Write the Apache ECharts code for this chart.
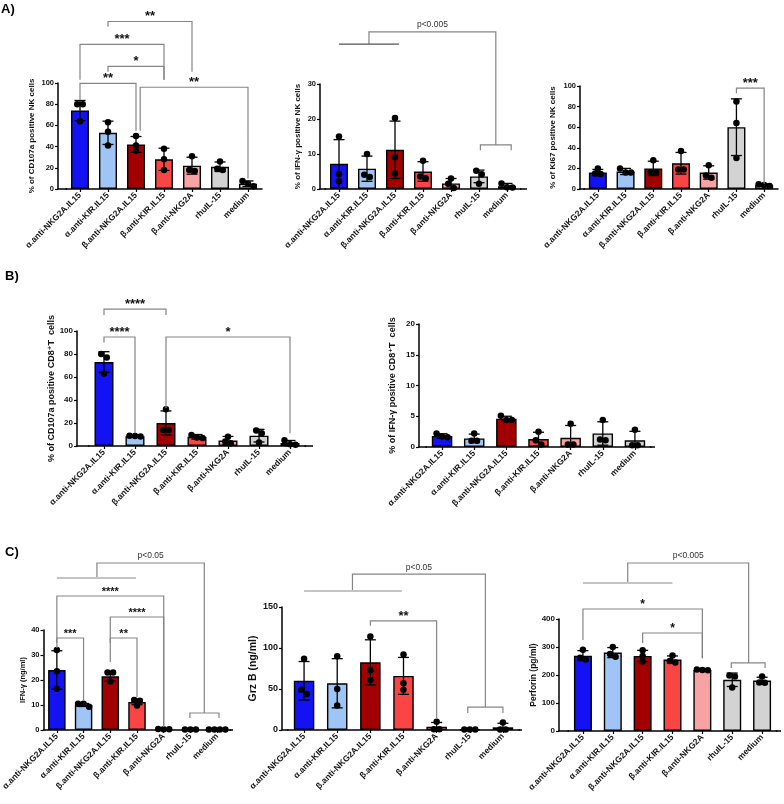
<!DOCTYPE html>
<html><head><meta charset="utf-8">
<script src="https://cdn.jsdelivr.net/npm/echarts@6/dist/echarts.min.js"></script>
<style>html,body{margin:0;padding:0;background:#fff}#c{width:784px;height:804px}</style>
</head><body><div id="c"></div>
<script>
const categories = ['α.anti-NKG2A.IL15','α.anti-KIR.IL15','β.anti-NKG2A.IL15','β.anti-KIR.IL15','β.anti-NKG2A','rhuIL-15','medium'];
const barColors = ['#1212f2','#9fc5f6','#a20000','#fa4545','#f8a3a3','#d3d3d3','#d3d3d3'];

// A) CD107a positive NK cells
const a1Means = [74, 53, 42, 28, 22, 21, 5];
const a1SD    = [9.5, 11, 7.5, 10.5, 8, 4.5, 2.6];
const a1Dots  = [[80,80,64],[63,54,41],[50,41,36],[38,28,18],[31,18,17],[26,19,18],[7.5,5,2.5]];
// A) IFN-γ positive NK cells
const a2Means = [7.2, 5.8, 11.2, 5, 1.6, 3.6, 0.8];
const a2SD    = [6.9, 3.6, 8.2, 2.8, 1.4, 1.8, 0.8];
const a2Dots  = [[15,4.3,2.2],[10,3.4,4.1],[20.3,9.1,4.4],[8.1,3.1,3.6],[3,1.5,0.3],[5.2,4.2,1.5],[1.6,0.4,0.5]];
// A) Ki67 positive NK cells
const a3Means = [16, 17, 20, 25, 16, 60, 4];
const a3SD    = [3, 3, 7, 10.5, 6.5, 27.5, 0.8];
const a3Dots  = [[20,15,14.5],[20,16,16],[28,16,16],[37,19,19],[23,13,11],[85,64,30],[4.5,4,3]];
// B) CD107a positive CD8+T cells
const b1Means = [73, 8.5, 20, 8, 4.8, 9, 2.5];
const b1SD    = [9, 0.6, 10.5, 2, 3.5, 5.5, 2.3];
const b1Dots  = [[80,77,63],[9,8.6,8.2],[32,14,14],[9.5,7.5,7],[8,4,2.5],[13.5,11,3],[5,1,1.5]];
// B) IFN-γ positive CD8+T cells
const b2Means = [1.8, 1.4, 4.6, 1.3, 1.5, 2.2, 1.1];
const b2SD    = [0.35, 0.7, 0.4, 1.1, 2.0, 1.9, 1.45];
const b2Dots  = [[2.2,1.7,1.6],[2.2,1.0,1.0],[5.1,4.4,4.4],[2.5,0.4,1.1],[3.8,0.4,0.4],[4.4,1.1,1.2],[2.8,0.3,0.3]];
// C) IFN-γ (ng/ml)
const c1Means = [24, 10, 21.5, 11.2, 0.35, 0.2, 0.25];
const c1SD    = [7.7, 0.6, 1.9, 1.1, 0.05, 0.05, 0.05];
const c1Dots  = [[32,23.5,16.5],[10.5,10.5,9.3],[23,23,19.4],[12,11.7,9.8],[0.4,0.35,0.35],[0.2,0.2,0.2],[0.25,0.25,0.25,0.25]];
// C) Grz B (ng/ml)
const c2Means = [60, 57, 82.5, 66, 4, 0.5, 3.3];
const c2SD    = [23.5, 30, 27.5, 22.5, 5.2, 0.1, 4.9];
const c2Dots  = [[87,49,44],[90,50,30],[114,73,61],[92,57,49],[10,1,1],[0.5,0.5,0.5],[9,0.5,0.5]];
// C) Perforin (pg/ml)
const c3Means = [269, 280, 268, 255, 218, 183, 180];
const c3SD    = [18, 18, 20, 13, 1.5, 24, 12];
const c3Dots  = [[290,262,255],[300,275,265],[288,268,248],[270,250,245],[220,218,217],[198,195,155],[195,173,172]];

// significance annotations: category positions and levels in data units
const a1Brackets = [
  {x1:1, x2:4, y:158, l:153, r:110.7, t:'**'},
  {x1:0, x2:3, y:136.5, l:103, r:103, t:'***'},
  {x1:1, x2:3, y:115.6, l:110.7, r:103, t:'*'},
  {x1:0, x2:2, y:99.7, l:84, r:55, t:'**'},
  {x1:2.15, x2:6, y:96, l:55, r:10, t:'**'}
];
const a2Brackets = [
  {x1:1.07, x2:5.6, y:44.9, l:41.4, r:12.6, t:'p<0.005', p:true},
  {x1:0, x2:2.14, y:41.4, dark:true},
  {x1:5.05, x2:6.15, y:12.6, l:11.1, r:11.1}
];
const a3Brackets = [
  {x1:5, x2:6, y:98, l:93, r:5, t:'***'}
];
const b1Brackets = [
  {x1:0, x2:2, y:119, l:114, r:114, t:'****'},
  {x1:0, x2:1, y:94.8, l:90, r:11, t:'****'},
  {x1:2, x2:6, y:94.8, l:33, r:11, t:'*'}
];
const b2Brackets = [];
const c1Brackets = [
  {x1:1.5, x2:5.52, y:66.8, l:60.8, r:6.8, t:'p<0.05', p:true},
  {x1:0, x2:2.96, y:60.8, light:true},
  {x1:4.98, x2:6.07, y:6.8, l:4.8, r:4.8},
  {x1:0, x2:4, y:53.6, l:32.8, r:1.2, t:'****'},
  {x1:2, x2:4, y:45.2, l:27.2, r:1.2, t:'****'},
  {x1:0, x2:1, y:36.8, l:34.8, r:12, t:'***'},
  {x1:2, x2:3, y:36.8, l:34.8, r:13.2, t:'**'}
];
const c2Brackets = [
  {x1:1.46, x2:5.47, y:190, l:169.5, r:28, t:'p<0.05', p:true},
  {x1:0, x2:2.95, y:169.5, light:true},
  {x1:4.94, x2:6.0, y:28, l:20.7, r:20.7},
  {x1:2, x2:4, y:133, l:127, r:14.6, t:'**'}
];
const c3Brackets = [
  {x1:1.5, x2:5.55, y:600, l:528.6, r:243, t:'p<0.005', p:true},
  {x1:0, x2:3.0, y:528.6, light:true},
  {x1:4.97, x2:6.1, y:243, l:225, r:225},
  {x1:0, x2:4, y:435.7, l:325, r:260, t:'*'},
  {x1:2, x2:4, y:350, l:314, r:260, t:'*'}
];

const FF = "'Liberation Sans', Arial, 'DejaVu Sans', sans-serif";

const panels = [
  {means:a1Means, sd:a1SD, dots:a1Dots, br:a1Brackets, max:100, interval:20, name:'% of CD107a positive NK cells', nameSize:8, nameGap:22.5, left:66, top:83, width:196, height:106, yOff:8, xExt:0, barW:18, ySize:7.5, starSize:13},
  {means:a2Means, sd:a2SD, dots:a2Dots, br:a2Brackets, max:30, interval:10, name:'% of IFN-γ positive NK cells', nameSize:8, nameGap:18, left:325, top:84, width:196, height:105, yOff:5, xExt:6, barW:18, ySize:7.5, starSize:13},
  {means:a3Means, sd:a3SD, dots:a3Dots, br:a3Brackets, max:100, interval:20, name:'% of Ki67 positive NK cells', nameSize:8, nameGap:23, left:584, top:86, width:194, height:103, yOff:4, xExt:0, barW:18, ySize:7.5, starSize:13},
  {means:b1Means, sd:b1SD, dots:b1Dots, br:b1Brackets, max:100, interval:20, name:'% of CD107a positive CD8⁺T  cells', nameSize:9, nameGap:19.5, left:88.5, top:331, width:217, height:115, yOff:11.5, xExt:7.5, barW:19, ySize:8, starSize:13},
  {means:b2Means, sd:b2SD, dots:b2Dots, br:b2Brackets, max:20, interval:5, name:'% of IFN-γ positive CD8⁺T  cells', nameSize:9, nameGap:22, left:426, top:324, width:225, height:123, yOff:7, xExt:4, barW:20.5, ySize:8, starSize:13},
  {means:c1Means, sd:c1SD, dots:c1Dots, br:c1Brackets, max:40, interval:10, name:'IFN-γ (ng/ml)', nameSize:7.5, nameGap:17, left:43.5, top:630, width:187, height:100, yOff:0, xExt:2.5, barW:17.5, ySize:7.5, starSize:11},
  {means:c2Means, sd:c2SD, dots:c2Dots, br:c2Brackets, max:150, interval:50, name:'Grz B (ng/ml)', nameSize:10.5, nameGap:19.5, left:287.5, top:607, width:232, height:123, yOff:5.5, xExt:2.5, barW:20.5, ySize:9, starSize:13},
  {means:c3Means, sd:c3SD, dots:c3Dots, br:c3Brackets, max:400, interval:100, name:'Perforin (pg/ml)', nameSize:8.5, nameGap:19, left:568, top:619, width:209, height:112, yOff:9, xExt:4, barW:18, ySize:8, starSize:12}
];

// horizontal spreading of coincident points (GraphPad style)
function spread(vals, k) {
  const order = vals.map((v, i) => i).sort((a, b) => vals[b] - vals[a]);
  const off = new Array(vals.length).fill(0);
  let cluster = [];
  const flush = () => {
    const m = cluster.length;
    cluster.forEach((idx, j) => { off[idx] = (j - (m - 1) / 2) * 5.5; });
    cluster = [];
  };
  order.forEach((idx, n) => {
    if (n > 0 && (vals[order[n - 1]] - vals[idx]) * k >= 4.5) flush();
    cluster.push(idx);
  });
  flush();
  return off;
}

const series = [];
panels.forEach((p, g) => {
  const k = p.height / p.max;
  series.push({
    type: 'bar', xAxisIndex: g, yAxisIndex: g, barWidth: p.barW, z: 2,
    data: p.means.map((v, i) => ({value: v, itemStyle: {color: barColors[i]}})),
    itemStyle: {borderColor: '#000', borderWidth: 1.4},
    silent: true
  });
  series.push({
    type: 'custom', xAxisIndex: g, yAxisIndex: g, z: 3, silent: true, clip: false,
    data: p.means.map((v, i) => [i, v, p.sd[i]]),
    renderItem: function (params, api) {
      const i = api.value(0), m = api.value(1), s = api.value(2);
      const top = api.coord([i, m + s]);
      const lowV = Math.max(0, m - s);
      const bot = api.coord([i, lowV]);
      const cw = 5.5;
      const st = {stroke: '#000', lineWidth: 1.3};
      const ch = [
        {type: 'line', shape: {x1: top[0], y1: top[1], x2: bot[0], y2: bot[1]}, style: st},
        {type: 'line', shape: {x1: top[0] - cw, y1: top[1], x2: top[0] + cw, y2: top[1]}, style: st}
      ];
      if (lowV > 0) ch.push({type: 'line', shape: {x1: bot[0] - cw, y1: bot[1], x2: bot[0] + cw, y2: bot[1]}, style: st});
      if (params.dataIndex === 0) {
        const c0 = api.coord([0, 0]), c1 = api.coord([1, 0]);
        const bw = c1[0] - c0[0];
        const x0 = c0[0] - bw / 2;
        const x7 = c0[0] + bw * 6.5;
        if (p.yOff > 0) ch.push({type: 'line', shape: {x1: x0 - p.yOff - 0.75, y1: c0[1], x2: x0 + 1, y2: c0[1]}, style: {stroke: '#000', lineWidth: 1.5}});
        if (p.xExt > 0) ch.push({type: 'line', shape: {x1: x7 - 1, y1: c0[1], x2: x7 + p.xExt, y2: c0[1]}, style: {stroke: '#000', lineWidth: 1.5}});
      }
      return {type: 'group', children: ch};
    }
  });
  const dotData = [];
  p.dots.forEach((vals, i) => {
    const off = spread(vals, k);
    vals.forEach((v, j) => dotData.push({value: [i, v], symbolOffset: [off[j], 0]}));
  });
  series.push({
    type: 'scatter', xAxisIndex: g, yAxisIndex: g, z: 4, silent: true,
    symbol: 'circle', symbolSize: 6.5, itemStyle: {color: '#000', opacity: 1},
    data: dotData
  });
  if (p.br.length) {
    series.push({
      type: 'custom', xAxisIndex: g, yAxisIndex: g, z: 5, silent: true, clip: false,
      data: p.br.map(() => [0, 0]),
      renderItem: function (params, api) {
        const b = p.br[params.dataIndex];
        const c0 = api.coord([0, b.y]), c1 = api.coord([1, b.y]);
        const bw = c1[0] - c0[0];
        const X = x => c0[0] + x * bw;
        const Y = v => api.coord([0, v])[1];
        const pts = [];
        if (b.l != null) pts.push([X(b.x1), Y(b.l)]);
        pts.push([X(b.x1), Y(b.y)]);
        pts.push([X(b.x2), Y(b.y)]);
        if (b.r != null) pts.push([X(b.x2), Y(b.r)]);
        let stroke = '#858585', lw = 1.2;
        if (b.light) { stroke = '#c4c4c4'; lw = 2; }
        if (b.dark) { stroke = '#555'; lw = 1.1; }
        const ch = [{type: 'polyline', shape: {points: pts}, style: {stroke: stroke, lineWidth: lw, fill: null}}];
        if (b.t) {
          ch.push({type: 'text', style: {
            text: b.t, x: (X(b.x1) + X(b.x2)) / 2, y: Y(b.y) + (b.p ? -2.5 : 1.5),
            textAlign: 'center', textVerticalAlign: 'bottom',
            font: b.p ? ('normal 8.5px ' + FF) : ('bold ' + p.starSize + 'px ' + FF),
            fill: b.p ? '#333' : '#111'
          }});
        }
        return {type: 'group', children: ch};
      }
    });
  }
});

const option = {
  animation: false,
  backgroundColor: '#fff',
  textStyle: {fontFamily: FF},
  grid: panels.map(p => ({left: p.left, top: p.top, width: p.width, height: p.height, containLabel: false, outerBoundsMode: 'none'})),
  xAxis: panels.map((p, g) => ({
    type: 'category', gridIndex: g, data: categories,
    axisLine: {show: true, lineStyle: {color: '#000', width: 1.5}},
    axisTick: {show: true, alignWithLabel: true, length: 3, lineStyle: {color: '#000', width: 1.2}},
    axisLabel: {interval: 0, rotate: 45, fontSize: 8.5, fontWeight: 'bold', color: '#111', margin: 5, fontFamily: FF, hideOverlap: false},
    splitLine: {show: false}
  })),
  yAxis: panels.map((p, g) => ({
    type: 'value', gridIndex: g, min: 0, max: p.max, interval: p.interval, offset: p.yOff,
    name: p.name, nameLocation: 'middle', nameGap: p.nameGap, nameRotate: 90,
    nameTextStyle: {fontSize: p.nameSize, fontWeight: 'bold', color: '#111', fontFamily: FF},
    axisLine: {show: true, lineStyle: {color: '#000', width: 1.5}},
    axisTick: {show: true, length: 3, lineStyle: {color: '#000', width: 1.2}},
    axisLabel: {fontSize: p.ySize, fontWeight: 'bold', color: '#111', margin: 4, fontFamily: FF, hideOverlap: false},
    splitLine: {show: false}
  })),
  graphic: [
    {type: 'text', left: 1, top: 3, style: {text: 'A)', font: 'bold 13px ' + FF, fill: '#000'}},
    {type: 'text', left: 5, top: 270, style: {text: 'B)', font: 'bold 13px ' + FF, fill: '#000'}},
    {type: 'text', left: 5, top: 546, style: {text: 'C)', font: 'bold 13px ' + FF, fill: '#000'}}
  ],
  series: series
};

const chart = echarts.init(document.getElementById('c'), null, {renderer: 'canvas'});
chart.setOption(option);
</script>
</body></html>
